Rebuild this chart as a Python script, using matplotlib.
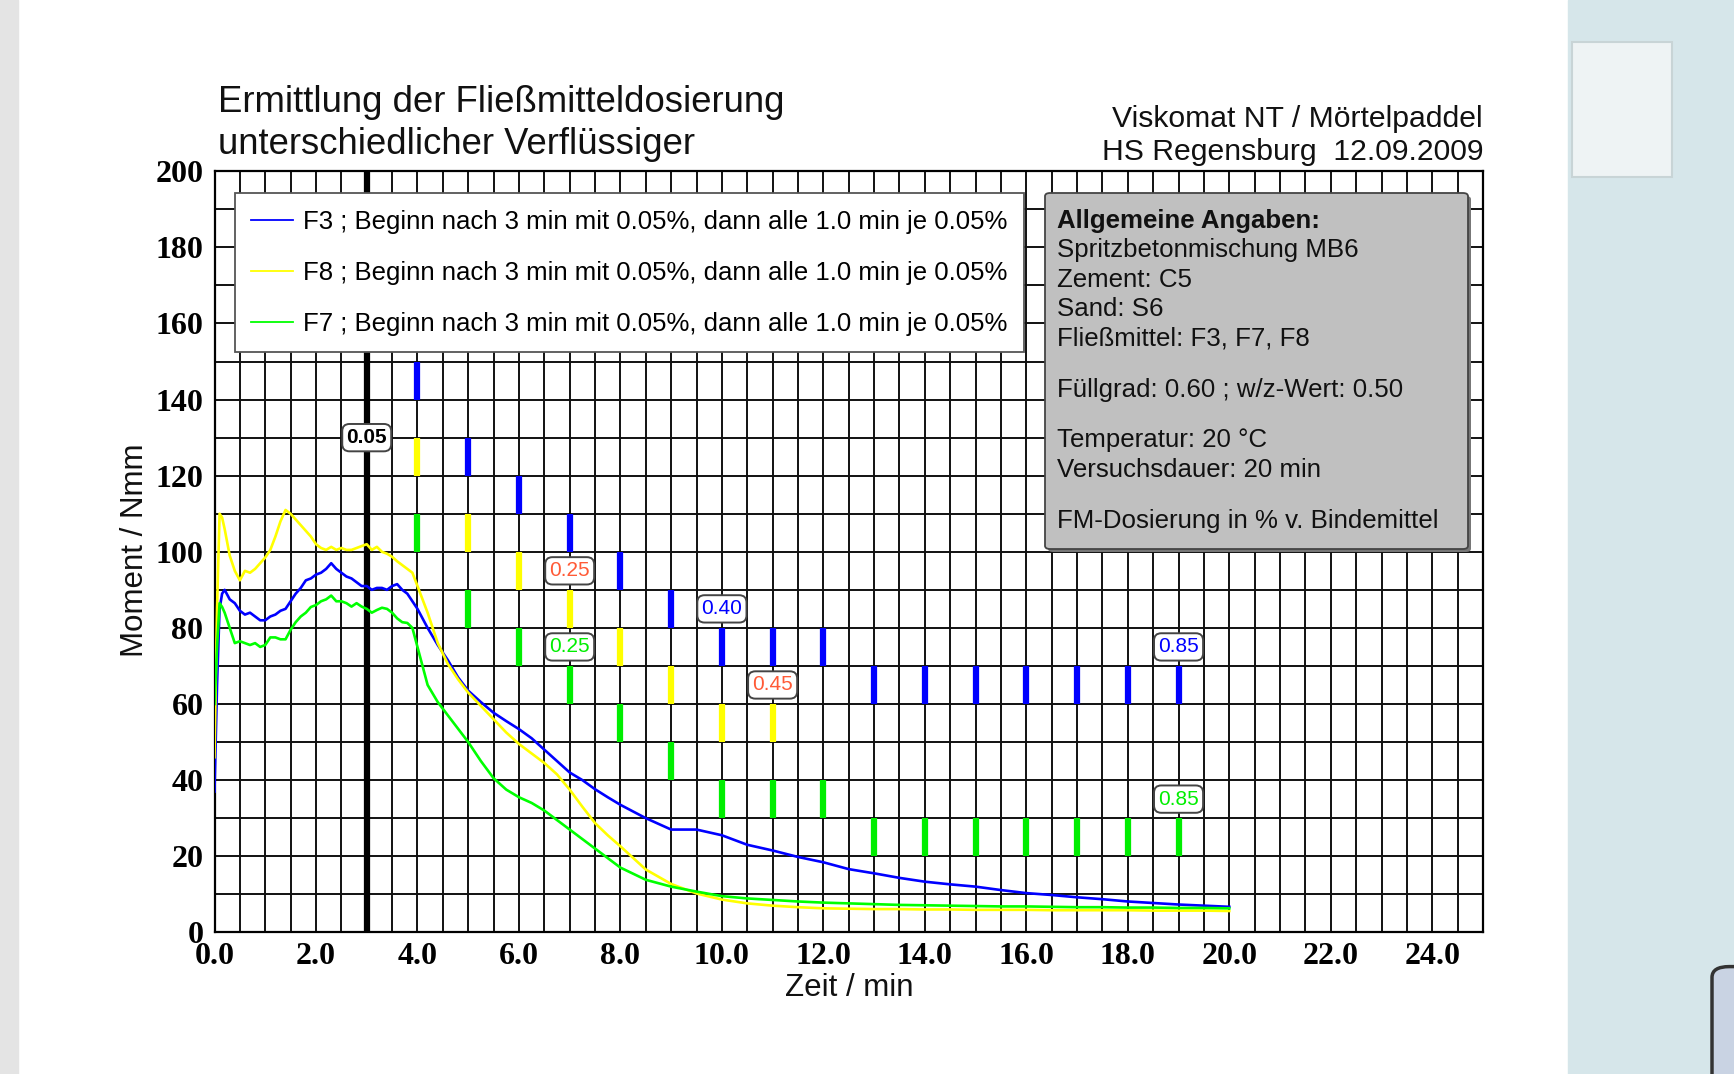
import numpy as np
import matplotlib
matplotlib.use("Agg")
import matplotlib.pyplot as plt
from matplotlib.patches import Rectangle, FancyBboxPatch

plt.rcParams['font.family'] = ['Liberation Sans', 'DejaVu Sans']

# time axis of the measurement (min)
minutes = [0.0, 0.05, 0.1, 0.15, 0.2, 0.3, 0.4, 0.5, 0.6, 0.7, 0.8, 0.9,
           1.0, 1.1, 1.2, 1.3, 1.4, 1.5, 1.6, 1.7, 1.8, 1.9, 2.0, 2.1,
           2.2, 2.3, 2.4, 2.5, 2.6, 2.7, 2.8, 2.9, 3.0, 3.1, 3.2, 3.3,
           3.4, 3.5, 3.6, 3.7, 3.8, 3.9, 4.0, 4.2, 4.4, 4.6, 4.8, 5.0,
           5.25, 5.5, 5.75, 6.0, 6.25, 6.5, 6.75, 7.0, 7.25, 7.5, 7.75, 8.0,
           8.5, 9.0, 9.5, 10.0, 10.5, 11.0, 11.5, 12.0, 12.5, 13.0, 13.5, 14.0,
           14.5, 15.0, 15.5, 16.0, 16.5, 17.0, 17.5, 18.0, 18.5, 19.0, 19.5, 20.0]

# Moment / Nmm
f3 = [37, 65, 85, 89, 90, 87.5, 86.5, 84.5, 83.5, 84, 83, 82,
      82, 83, 83.5, 84.5, 85, 87, 89, 90.5, 92.5, 93, 94, 94.5,
      95.5, 97, 95.5, 94.5, 93.5, 93, 92, 91, 91, 90, 90.5, 90.5,
      90, 91, 91.5, 90, 89, 87, 85, 80, 75.5, 71.5, 67, 63.5,
      60.5, 57.7, 55.5, 53.4, 51, 48, 45, 42, 40, 37.6, 35.5, 33.5,
      30, 27, 27, 25.5, 23, 21.5, 19.8, 18.4, 16.6, 15.5, 14.3, 13.3,
      12.6, 12, 11.1, 10.3, 9.8, 9.2, 8.7, 8.1, 7.7, 7.3, 7.0, 6.7]
f8 = [46, 85, 110, 109, 106, 99, 95, 92.5, 95, 94.5, 95.5, 97,
      98.5, 100.5, 104, 108, 111, 110, 108.5, 107, 105.5, 104, 102, 101,
      100.5, 101.3, 100.5, 101, 100.5, 100.5, 101, 101.5, 102, 100.5, 101.3, 100,
      99.5, 98.7, 97.5, 96.5, 95.5, 94.5, 91, 84, 76, 70.5, 66.5, 63,
      59.5, 56, 52.5, 49.5, 47, 44.5, 41.5, 37.5, 33, 28.7, 25.5, 22.6,
      16.5, 12.7, 10.2, 8.6, 7.6, 7.0, 6.6, 6.3, 6.2, 6.1, 6.1, 6.0,
      6.0, 5.9, 5.9, 5.9, 5.8, 5.8, 5.8, 5.8, 5.7, 5.7, 5.7, 5.6]
f7 = [60, 75, 86.5, 85.5, 84, 80, 76, 76.5, 76, 75.5, 76, 75,
      75.5, 77.5, 77.5, 77, 77, 79.5, 81.5, 83, 84, 85.5, 86, 87,
      87.5, 88.5, 87, 87, 86.5, 85.6, 86.5, 85.6, 85, 84, 84.7, 85.3,
      85, 84, 82.5, 81.5, 81.3, 80, 75, 65, 60.5, 57, 53.5, 50,
      45, 40.5, 37.5, 35.5, 34, 32, 29.5, 27, 24.5, 22, 19.5, 17,
      13.8, 12, 10.7, 9.5, 8.9, 8.5, 8.1, 7.8, 7.6, 7.4, 7.2, 7.1,
      7.0, 6.9, 6.8, 6.8, 6.7, 6.6, 6.6, 6.5, 6.5, 6.4, 6.4, 6.3]

# dosing marks: time (min) and lower end of the 10 Nmm bar
f3_dose_t = [4, 5, 6, 7, 8, 9, 10, 11, 12, 13, 14, 15, 16, 17, 18, 19]
f3_dose_lo = [140, 120, 110, 100, 90, 80, 70, 70, 70, 60, 60, 60, 60, 60, 60, 60]
f8_dose_t = [4, 5, 6, 7, 8, 9, 10, 11]
f8_dose_lo = [120, 100, 90, 80, 70, 60, 50, 50]
f7_dose_t = [4, 5, 6, 7, 8, 9, 10, 11, 12, 13, 14, 15, 16, 17, 18, 19]
f7_dose_lo = [100, 80, 70, 60, 50, 40, 30, 30, 30, 20, 20, 20, 20, 20, 20, 20]

# dosage labels (x, y, text, colour)
dose_labels = [(3, 130, '0.05', 'black'),
               (7, 95, '0.25', '#ff5a36'),
               (7, 75, '0.25', '#00ee00'),
               (10, 85, '0.40', '#0000ff'),
               (11, 65, '0.45', '#ff5a36'),
               (19, 75, '0.85', '#0000ff'),
               (19, 35, '0.85', '#00ee00')]

legend_text = ' ; Beginn nach 3 min mit 0.05%, dann alle 1.0 min je 0.05%'
info_lines = ['Allgemeine Angaben:', 'Spritzbetonmischung MB6', 'Zement: C5',
              'Sand: S6', 'Fließmittel: F3, F7, F8',
              'Füllgrad: 0.60 ; w/z-Wert: 0.50',
              'Temperatur: 20 °C', 'Versuchsdauer: 20 min',
              'FM-Dosierung in % v. Bindemittel']
info_y = [221, 250, 280, 309, 338, 390, 440, 470, 521]   # pixel rows

W, H = 1734, 1074
fig = plt.figure(figsize=(W / 100, H / 100), dpi=100)
fig.patch.set_facecolor('white')

# screenshot surroundings
fig.add_artist(Rectangle((0, 0), 18 / W, 1, transform=fig.transFigure,
                         color='#e4e4e4', zorder=0))
fig.add_artist(Rectangle((1568 / W, 0), 1, 1, transform=fig.transFigure,
                         color='#d6e6ea', zorder=0))
fig.add_artist(Rectangle((1572 / W, 1 - 177 / H), 100 / W, 135 / H,
                         transform=fig.transFigure, fc='#eef3f4', ec='#c8d4d6',
                         lw=1.5, zorder=0))
fig.add_artist(FancyBboxPatch((1712 / W, -0.02), 40 / W, 0.12,
                              boxstyle='round,pad=0,rounding_size=0.01',
                              transform=fig.transFigure, fc='#c9d3e3',
                              ec='#333333', lw=2.5, zorder=0))

ax = fig.add_axes([214.5 / W, 1 - 932.3 / H, 1268.5 / W, 761 / H])
ax.set_xlim(0, 25)
ax.set_ylim(0, 200)
ax.set_xticks(np.arange(0, 25, 2))
ax.set_xticklabels(['%.1f' % v for v in np.arange(0, 25, 2)])
ax.set_xticks(np.arange(0, 25.01, 0.5), minor=True)
ax.set_yticks(np.arange(0, 201, 20))
ax.set_yticks(np.arange(0, 201, 10), minor=True)
ax.grid(which='both', color='#111111', lw=1.4)
ax.set_axisbelow(True)
ax.tick_params(which='both', length=0)
ax.tick_params(axis='x', pad=7)
ax.tick_params(axis='y', pad=8)
for lab in ax.get_xticklabels() + ax.get_yticklabels():
    lab.set_fontfamily('Liberation Serif')
    lab.set_fontweight('bold')
    lab.set_fontsize(23)
for sp in ax.spines.values():
    sp.set_linewidth(1.6)

ax.axvline(3, color='black', lw=4.5, zorder=2.5)

ax.plot(minutes, f3, color='#0000ff', lw=1.9, zorder=3, label='F3' + legend_text)
ax.plot(minutes, f8, color='#ffff00', lw=1.9, zorder=3, label='F8' + legend_text)
ax.plot(minutes, f7, color='#00ff00', lw=1.9, zorder=3, label='F7' + legend_text)

for tt, lo, col in [(f3_dose_t, f3_dose_lo, '#0000ff'),
                    (f8_dose_t, f8_dose_lo, '#ffff00'),
                    (f7_dose_t, f7_dose_lo, '#00ee00')]:
    lo = np.array(lo)
    ax.vlines(tt, lo, lo + 10, color=col, lw=4.5, zorder=3.5)

for x, y, s, col in dose_labels:
    ax.text(x, y, s, ha='center', va='center', color=col, fontsize=15,
            fontweight='bold' if s == '0.05' else 'normal', zorder=6,
            bbox=dict(boxstyle='round,pad=0.2,rounding_size=0.35', fc='white',
                      ec='#444444', lw=1.4))

leg = ax.legend(loc='upper left', bbox_to_anchor=(0.016, 0.9715),
                borderaxespad=0, fontsize=18.5, handlelength=1.6,
                handletextpad=0.4, labelspacing=1.05, borderpad=0.65,
                fancybox=False, framealpha=1, edgecolor='#555555', shadow=False)
leg.get_frame().set_linewidth(1.3)
for ln in leg.get_lines():
    ln.set_linewidth(1.3)
leg.set_zorder(7)

# info box
ax.add_patch(FancyBboxPatch((1048 / W, 1 - 552 / H), 423 / W, 356 / H,
                            boxstyle='round,pad=0,rounding_size=0.003',
                            transform=fig.transFigure, fc='#777777', ec='none',
                            zorder=6))
ax.add_patch(FancyBboxPatch((1045 / W, 1 - 549 / H), 423 / W, 356 / H,
                            boxstyle='round,pad=0,rounding_size=0.003',
                            transform=fig.transFigure, fc='#c0c0c0',
                            ec='#444444', lw=1.3, zorder=6.5))
for i, (s, yy) in enumerate(zip(info_lines, info_y)):
    fig.text(1057 / W, 1 - yy / H, s, ha='left', va='center', fontsize=18.6,
             fontweight='bold' if i == 0 else 'normal', color='#111111',
             zorder=8)

# titles and axis labels
fig.text(218 / W, 1 - 103 / H, 'Ermittlung der Fließmitteldosierung',
         fontsize=26.3, va='center', ha='left', color='#111111')
fig.text(218 / W, 1 - 145 / H, 'unterschiedlicher Verflüssiger',
         fontsize=26.3, va='center', ha='left', color='#111111')
fig.text(1483 / W, 1 - 119 / H, 'Viskomat NT / Mörtelpaddel',
         fontsize=21.7, va='center', ha='right', color='#111111')
fig.text(1483 / W, 1 - 152 / H, 'HS Regensburg  12.09.2009',
         fontsize=21.7, va='center', ha='right', color='#111111')
fig.text(135 / W, 1 - 550 / H, 'Moment / Nmm', rotation=90, fontsize=22.5,
         ha='center', va='center', color='#111111')
fig.text(849 / W, 1 - 988 / H, 'Zeit / min', fontsize=22.5,
         ha='center', va='center', color='#111111')

fig.savefig('out.png', dpi=100)
